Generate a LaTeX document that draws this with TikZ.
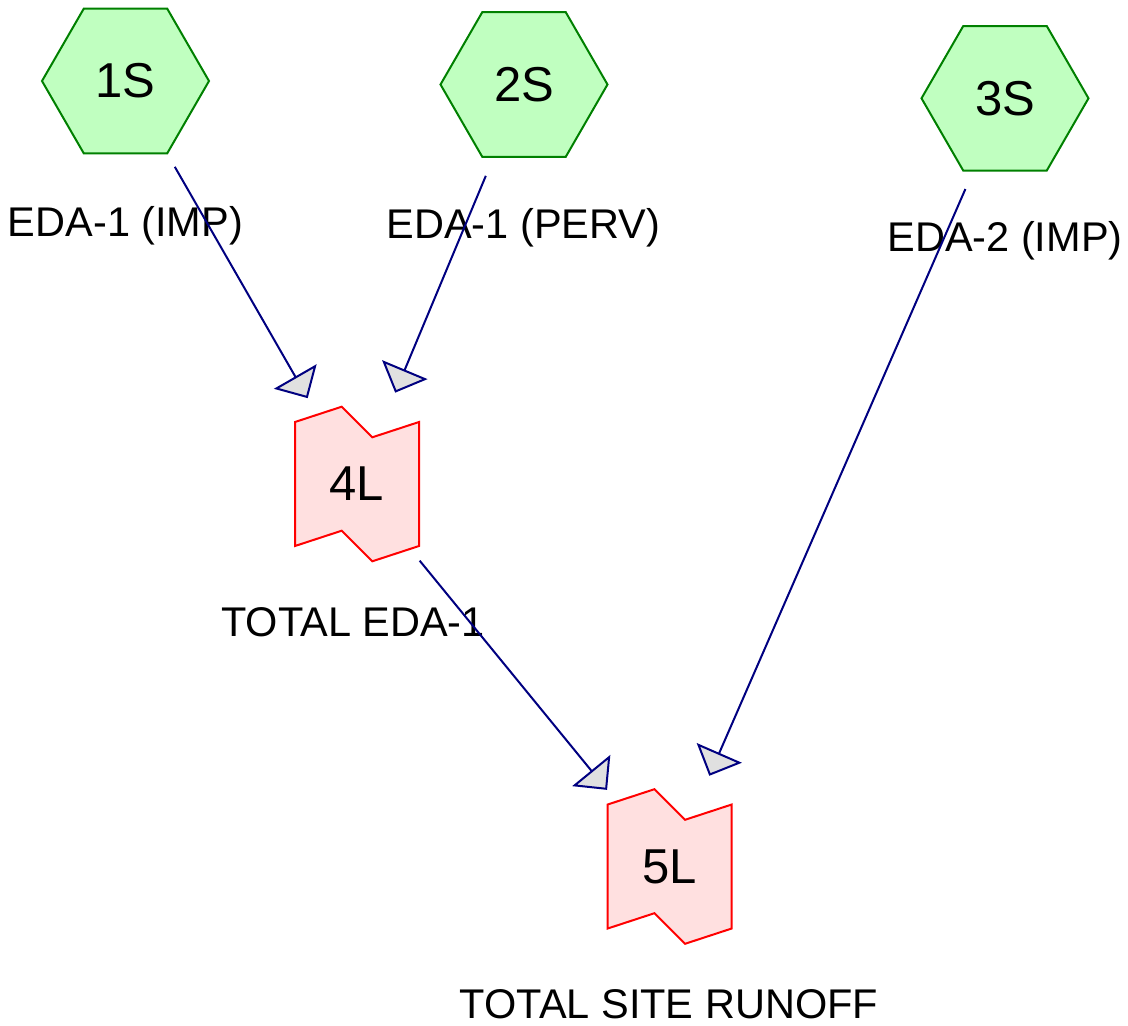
\documentclass[tikz,border=0pt]{standalone}
\usepackage{fontspec}
\setmainfont{Liberation Sans}
\usetikzlibrary{arrows.meta}
\definecolor{hexfill}{RGB}{192,255,192}
\definecolor{hexline}{RGB}{0,128,0}
\definecolor{linkfill}{RGB}{255,224,224}
\definecolor{linkline}{RGB}{255,0,0}
\definecolor{connline}{RGB}{0,0,128}
\definecolor{tipfill}{RGB}{224,224,224}
\begin{document}
\begin{tikzpicture}[x=1pt,y=-1pt,
  hexa/.style={draw=hexline, fill=hexfill, line width=2pt, line join=miter},
  linkshape/.style={draw=linkline, fill=linkfill, line width=2pt, line join=miter},
  idtext/.style={inner sep=0pt, font=\fontsize{49}{58}\selectfont},
  lbl/.style={inner sep=0pt, anchor=base, font=\fontsize{41.5}{50}\selectfont},
  conn/.style={draw=connline, line width=2pt, shorten <=99pt, shorten >=99pt,
    -{Triangle[width=49pt,length=25pt,fill=tipfill]}}
]
\useasboundingbox (0,0) rectangle (1128,1026);

% subcatchments (hexagons)
\foreach \cx/\cy in {125.5/81, 524/84.5, 1005/98.3}
  \draw[hexa] (\cx+83.5,\cy) -- (\cx+41.75,\cy-72.3) -- (\cx-41.75,\cy-72.3)
    -- (\cx-83.5,\cy) -- (\cx-41.75,\cy+72.3) -- (\cx+41.75,\cy+72.3) -- cycle;

% links (notched banners)
\foreach \cx/\cy in {357/484, 669.7/866.5}
  \draw[linkshape] (\cx-62,\cy-62) -- (\cx-15.3,\cy-77.3) -- (\cx+15.3,\cy-46.7)
    -- (\cx+62,\cy-62) -- (\cx+62,\cy+62) -- (\cx+15.3,\cy+77.3)
    -- (\cx-15.3,\cy+46.7) -- (\cx-62,\cy+62) -- cycle;

% identifiers
\node[idtext] (s1) at (125.5,81) {1S};
\node[idtext] (s2) at (524,84.5) {2S};
\node[idtext] (s3) at (1005,98.3) {3S};
\node[idtext] (l4) at (357,484) {4L};
\node[idtext] (l5) at (669.7,866.5) {5L};

% descriptions
\node[lbl] (d1) at (125.5,236) {EDA-1 (IMP)};
\node[lbl] (d2) at (523.5,238) {EDA-1 (PERV)};
\node[lbl] (d3) at (1005,251.5) {EDA-2 (IMP)};
\node[lbl] (d4) at (353,636.7) {TOTAL EDA-1};
\node[lbl] (d5) at (669,1018) {TOTAL SITE RUNOFF};

% flow connections
\draw[conn] (s1.center) -- (l4.center);
\draw[conn] (s2.center) -- (l4.center);
\draw[conn] (s3.center) -- (l5.center);
\draw[conn] (l4.center) -- (l5.center);
\end{tikzpicture}
\end{document}
